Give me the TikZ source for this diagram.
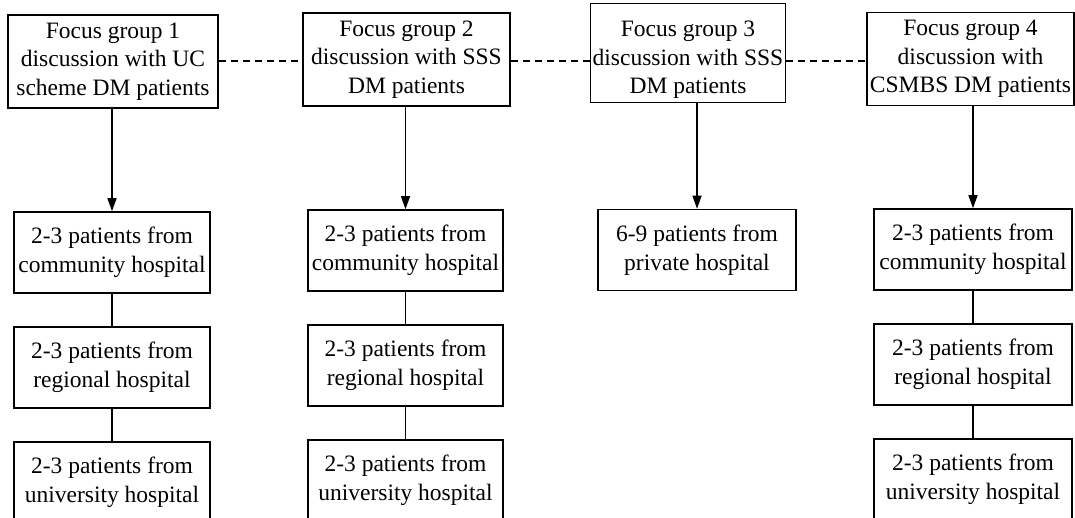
\documentclass[tikz,border=0pt]{standalone}
\usepackage{fontspec}
\setmainfont{Liberation Serif}
\usetikzlibrary{arrows.meta}
\begin{document}
\begin{tikzpicture}[x=1pt,y=-1pt,
  txt/.style={inner sep=0pt, align=center, font=\fontsize{23.5}{28.5}\selectfont},
  box/.style={txt, draw, line width=1.6pt, rectangle},
  headbox/.style={box, minimum height=93pt},
  sitebox/.style={box, minimum height=81pt},
  link/.style={line width=1.4pt},
  feed/.style={link, -{Triangle[length=13pt,width=9pt]}},
  peer/.style={link, dash pattern=on 7pt off 5pt}]
\useasboundingbox (0,0) rectangle (1075,518);

% focus groups
\node[headbox, minimum width=210pt] (g1) at (113,61.5)
  {Focus group 1\\discussion with UC\\scheme DM patients};
\node[headbox, minimum width=207pt] (g2) at (406.5,59.5)
  {Focus group 2\\discussion with SSS\\DM patients};
% group 3 has a taller frame; its text sits level with the others
\node[box, minimum width=195pt, minimum height=99pt] (g3) at (688,53) {};
\node[txt] (g3t) at (688,60)
  {Focus group 3\\discussion with SSS\\DM patients};
\node[headbox, minimum width=207pt] (g4) at (970.5,59)
  {Focus group 4\\discussion with\\CSMBS DM patients};

% column 1
\node[sitebox, minimum width=196pt] (a1) at (112,252.5) {2-3 patients from\\community hospital};
\node[sitebox, minimum width=196pt] (a2) at (112,367.5) {2-3 patients from\\regional hospital};
\node[sitebox, minimum width=196pt] (a3) at (112,482.5) {2-3 patients from\\university hospital};

% column 2
\node[sitebox, minimum width=195pt] (b1) at (405.5,250.5) {2-3 patients from\\community hospital};
\node[sitebox, minimum width=195pt] (b2) at (405.5,365.5) {2-3 patients from\\regional hospital};
\node[sitebox, minimum width=195pt] (b3) at (405.5,480.5) {2-3 patients from\\university hospital};

% column 3
\node[sitebox, minimum width=198pt] (c1) at (697,250) {6-9 patients from\\private hospital};

% column 4
\node[sitebox, minimum width=198pt] (d1) at (973,249.5) {2-3 patients from\\community hospital};
\node[sitebox, minimum width=198pt] (d2) at (973,364.5) {2-3 patients from\\regional hospital};
\node[sitebox, minimum width=198pt] (d3) at (973,479.5) {2-3 patients from\\university hospital};

% dashed links between the groups
\draw[peer] (g1.east |- 0,61) -- (g2.west |- 0,61);
\draw[peer] (g2.east |- 0,61) -- (g3.west |- 0,61);
\draw[peer] (g3.east |- 0,61) -- (g4.west |- 0,61);

% arrows from each group to its first site
\draw[feed] (g1.south -| a1.north) -- (a1.north);
\draw[feed] (g2.south -| b1.north) -- (b1.north);
\draw[feed] (g3.south -| c1.north) -- (c1.north);
\draw[feed] (g4.south -| d1.north) -- (d1.north);

% plain links between sites
\draw[link] (a1) -- (a2);
\draw[link] (a2) -- (a3);
\draw[link] (b1) -- (b2);
\draw[link] (b2) -- (b3);
\draw[link] (d1) -- (d2);
\draw[link] (d2) -- (d3);
\end{tikzpicture}
\end{document}
